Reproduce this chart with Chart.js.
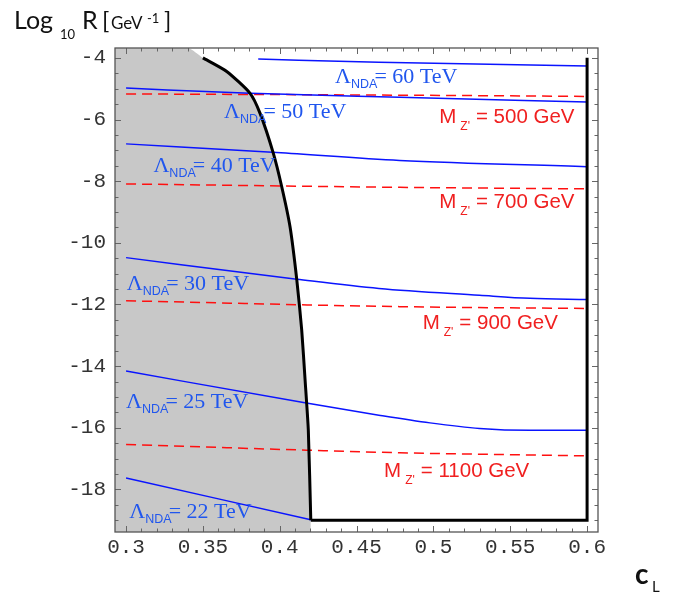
<!DOCTYPE html>
<html>
<head>
<meta charset="utf-8">
<script src="https://cdn.jsdelivr.net/npm/chart.js@4.4.0/dist/chart.umd.min.js"></script>
<style>
  html, body { margin: 0; padding: 0; background: #fff; }
</style>
</head>
<body>
<canvas id="chart" width="679" height="593"></canvas>
<script>
// Plot range (frame) in c_L and Log10 R
const xMin = 0.2928, xMax = 0.6071;
const yMin = -19.38, yMax = -3.68;

const xTicks = [0.3, 0.35, 0.4, 0.45, 0.5, 0.55, 0.6];
const yTicks = [-18, -16, -14, -12, -10, -8, -6, -4];

// Excluded (grey) region boundary
const boundX = [0.35, 0.3655, 0.3807, 0.3872, 0.3958, 0.4013, 0.4067, 0.4111, 0.4143, 0.4165, 0.4186, 0.4202];
const boundY = [-4.0, -4.44, -5.15, -5.80, -7.09, -8.18, -9.48, -11.2, -12.83, -14.45, -16.08, -19.0];
const shadeX = [0.2928, 0.3403].concat(boundX);
const shadeY = [-3.68, -3.68].concat(boundY);
const boxX = [0.4202, 0.6, 0.6];
const boxY = [-19.0, -19.0, -4.0];

// Lambda_NDA contours (solid blue)
const lam60X = [0.386, 0.4645, 0.6];
const lam60Y = [-4.04, -4.14, -4.26];
const lam50X = [0.3, 0.3807, 0.478, 0.6];
const lam50Y = [-4.98, -5.15, -5.28, -5.43];
const lam40X = [0.3, 0.398, 0.478, 0.6];
const lam40Y = [-6.79, -7.07, -7.33, -7.53];
const lam30X = [0.3, 0.4111, 0.4645, 0.53, 0.5628, 0.6];
const lam30Y = [-10.48, -11.18, -11.48, -11.70, -11.80, -11.84];
const lam25X = [0.3, 0.4154, 0.4645, 0.4978, 0.53, 0.563, 0.6];
const lam25Y = [-14.16, -15.18, -15.59, -15.84, -16.02, -16.08, -16.08];
const lam22X = [0.3, 0.4202];
const lam22Y = [-17.63, -18.98];

// M_Z' contours (dashed red)
const mz500X = [0.3, 0.478, 0.6];
const mz500Y = [-5.17, -5.21, -5.25];
const mz700X = [0.3, 0.478, 0.6];
const mz700Y = [-8.09, -8.20, -8.25];
const mz900X = [0.3, 0.478, 0.6];
const mz900Y = [-11.88, -12.07, -12.13];
const mz1100X = [0.3, 0.42, 0.478, 0.6];
const mz1100Y = [-16.54, -16.73, -16.81, -16.91];

// Curve labels, anchored in data coordinates
const lamLabels = [
    { text: '= 60 TeV', x: 0.436, y: -4.81 },
    { text: '= 50 TeV', x: 0.3638, y: -5.96 },
    { text: '= 40 TeV', x: 0.3178, y: -7.69 },
    { text: '= 30 TeV', x: 0.3005, y: -11.53 },
    { text: '= 25 TeV', x: 0.3, y: -15.37 },
    { text: '= 22 TeV', x: 0.3021, y: -18.94 }
];
const mzLabels = [
    { text: '= 500 GeV', x: 0.5038, y: -6.12 },
    { text: '= 700 GeV', x: 0.5038, y: -8.88 },
    { text: '= 900 GeV', x: 0.4930, y: -12.80 },
    { text: '= 1100 GeV', x: 0.4679, y: -17.59 }
];

const blue = '#0a14ff';
const red = '#ff1010';
const blueText = '#2056ee';
const redText = '#f02020';

const pts = (xs, ys) => xs.map((v, i) => ({ x: v, y: ys[i] }));

function blueLine(xs, ys) {
    return { data: pts(xs, ys), showLine: true, borderColor: blue, borderWidth: 1.5,
             pointRadius: 0, cubicInterpolationMode: 'monotone', fill: false, order: 1 };
}
function redLine(xs, ys) {
    return { data: pts(xs, ys), showLine: true, borderColor: red, borderWidth: 1.5,
             borderDash: [10, 6], pointRadius: 0, cubicInterpolationMode: 'monotone', fill: false, order: 1 };
}

const framePlugin = {
    id: 'frame',
    afterDatasetsDraw(chart) {
        const { ctx, chartArea: a, scales: { x, y } } = chart;
        ctx.save();
        ctx.strokeStyle = '#666';
        ctx.lineWidth = 1;
        const line = (x1, y1, x2, y2) => { ctx.beginPath(); ctx.moveTo(x1, y1); ctx.lineTo(x2, y2); ctx.stroke(); };
        for (let i = 0; i <= 30; i++) {
            const px = Math.round(x.getPixelForValue(0.3 + i * 0.01)) + 0.5;
            const len = i % 5 === 0 ? 6 : 3.5;
            line(px, a.bottom, px, a.bottom - len);
            line(px, a.top, px, a.top + len);
        }
        for (let i = 0; i <= 30; i++) {
            const v = -19 + i * 0.5;
            const py = Math.round(y.getPixelForValue(v)) + 0.5;
            const len = v % 2 === 0 ? 6 : 3.5;
            line(a.left, py, a.left + len, py);
            line(a.right, py, a.right - len, py);
        }
        ctx.strokeStyle = '#555';
        ctx.lineWidth = 1.3;
        ctx.strokeRect(a.left, a.top, a.right - a.left, a.bottom - a.top);
        ctx.restore();
    },
    afterDraw(chart) {
        const { ctx, scales: { x, y } } = chart;
        ctx.save();
        ctx.textBaseline = 'alphabetic';
        ctx.textAlign = 'left';

        // Lambda_NDA labels
        ctx.fillStyle = blueText;
        lamLabels.forEach(l => {
            const px = x.getPixelForValue(l.x), py = y.getPixelForValue(l.y);
            ctx.font = '22px "Liberation Serif"';
            ctx.fillText('\u039B', px, py);
            const w1 = ctx.measureText('\u039B').width;
            ctx.font = '12.5px "Liberation Sans"';
            ctx.fillText('NDA', px + w1, py + 5);
            const w2 = ctx.measureText('NDA').width;
            ctx.font = '22px "Liberation Serif"';
            ctx.fillText(l.text, px + w1 + w2 - 3, py);
        });

        // M_Z' labels
        ctx.fillStyle = redText;
        mzLabels.forEach(l => {
            const px = x.getPixelForValue(l.x), py = y.getPixelForValue(l.y);
            ctx.font = '20.5px "Liberation Sans"';
            ctx.fillText('M', px, py);
            const w1 = ctx.measureText('M').width;
            ctx.font = '12px "Liberation Sans"';
            ctx.fillText("Z'", px + w1 + 4, py + 7);
            const w2 = ctx.measureText("Z'").width;
            ctx.font = '20.5px "Liberation Sans"';
            ctx.fillText(l.text, px + w1 + w2 + 10, py);
        });

        // axis titles
        ctx.fillStyle = '#111';
        ctx.font = '25px Lato';
        ctx.fillText('Log', 14, 29);
        ctx.font = '13px Lato';
        ctx.fillText('10', 60, 39);
        ctx.font = '25px Lato';
        ctx.fillText('R', 82, 29);
        ctx.font = '24px Lato';
        ctx.fillText('[', 102, 29);
        ctx.font = '17px Lato';
        ctx.fillText('GeV', 111, 29);
        ctx.font = '13px Lato';
        ctx.fillText('-1', 147, 23);
        ctx.font = '24px Lato';
        ctx.fillText(']', 164, 29);

        ctx.font = 'bold 28px Lato';
        ctx.fillText('c', 635, 584);
        ctx.font = '15px Lato';
        ctx.fillText('L', 652, 592);
        ctx.restore();
    }
};

const ctx = document.getElementById('chart').getContext('2d');
new Chart(ctx, {
    type: 'scatter',
    data: {
        datasets: [
            { data: pts(boundX, boundY), showLine: true, borderColor: '#000', borderWidth: 3,
              pointRadius: 0, tension: 0.2, fill: false, order: 0 },
            { data: pts(boxX, boxY), showLine: true, borderColor: '#000', borderWidth: 3,
              pointRadius: 0, tension: 0, fill: false, order: 0 },
            blueLine(lam60X, lam60Y),
            blueLine(lam50X, lam50Y),
            blueLine(lam40X, lam40Y),
            blueLine(lam30X, lam30Y),
            blueLine(lam25X, lam25Y),
            blueLine(lam22X, lam22Y),
            redLine(mz500X, mz500Y),
            redLine(mz700X, mz700Y),
            redLine(mz900X, mz900Y),
            redLine(mz1100X, mz1100Y),
            { data: pts(shadeX, shadeY), showLine: true, borderWidth: 0, borderColor: 'rgba(0,0,0,0)',
              backgroundColor: '#c8c8c8', pointRadius: 0, tension: 0.2, fill: 'start', order: 5 }
        ]
    },
    options: {
        responsive: false,
        animation: false,
        layout: { padding: { top: 48, right: 81, left: 0, bottom: 0 } },
        plugins: { legend: { display: false }, tooltip: { enabled: false } },
        scales: {
            x: {
                type: 'linear', min: xMin, max: xMax,
                grid: { display: false, drawTicks: false },
                border: { display: false },
                afterBuildTicks: s => { s.ticks = xTicks.map(v => ({ value: v })); },
                afterFit: s => { s.height = 61; },
                ticks: { color: '#333', padding: 3, maxRotation: 0, autoSkip: false,
                         font: { family: '"Liberation Mono"', size: 21 },
                         callback: v => String(v) }
            },
            y: {
                type: 'linear', min: yMin, max: yMax,
                grid: { display: false, drawTicks: false },
                border: { display: false },
                afterBuildTicks: s => { s.ticks = yTicks.map(v => ({ value: v })); },
                afterFit: s => { s.width = 115; },
                ticks: { color: '#333', padding: 9, autoSkip: false,
                         font: { family: '"Liberation Mono"', size: 21 },
                         callback: v => String(v) }
            }
        }
    },
    plugins: [framePlugin]
});
</script>
</body>
</html>
